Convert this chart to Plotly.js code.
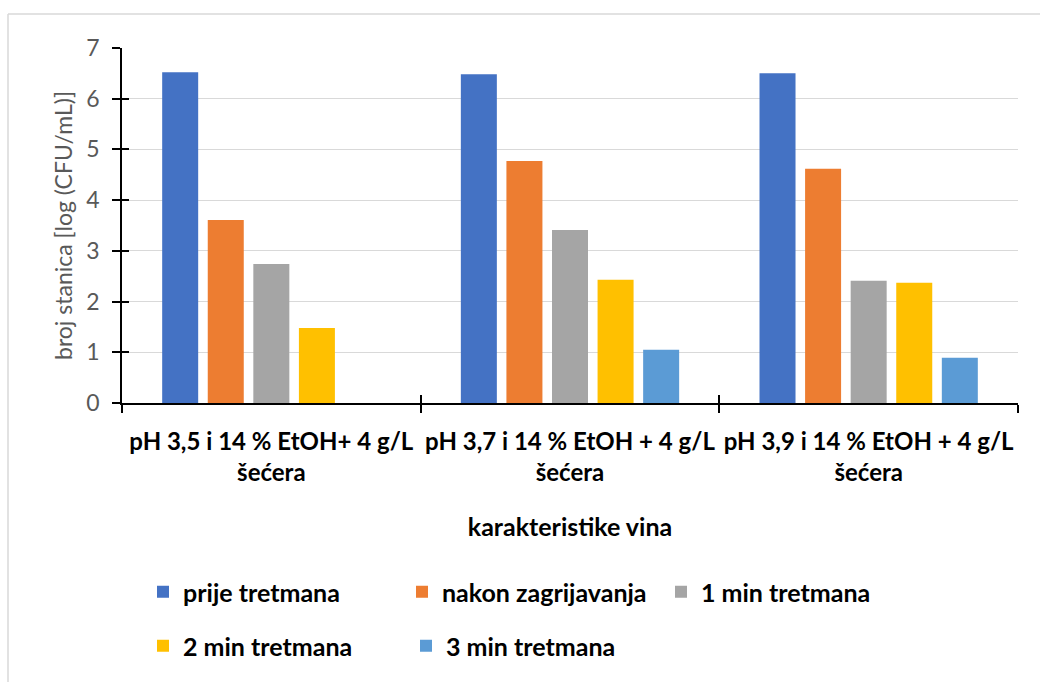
<!DOCTYPE html>
<html>
<head>
<meta charset="utf-8">
<script src="https://cdn.plot.ly/plotly-3.0.1.min.js"></script>
<style>html,body{margin:0;padding:0;background:#fff;}#chart{width:1040px;height:682px;}</style>
</head>
<body>
<div id="chart"></div>
<script>
const categories = [
  "pH 3,5 i 14 % EtOH+ 4 g/L<br>šećera",
  "pH 3,7 i 14 % EtOH + 4 g/L<br>šećera",
  "pH 3,9 i 14 % EtOH + 4 g/L<br>šećera"
];
const seriesNames = ["prije tretmana", "nakon zagrijavanja", "1 min tretmana", "2 min tretmana", "3 min tretmana"];
const prijeTretmana = [6.52, 6.48, 6.50];
const nakonZagrijavanja = [3.61, 4.77, 4.62];
const min1Tretmana = [2.74, 3.41, 2.41];
const min2Tretmana = [1.48, 2.43, 2.37];
const min3Tretmana = [null, 1.05, 0.89];
const yTicks = [0, 1, 2, 3, 4, 5, 6, 7];

const colors = ["#4472C4", "#ED7D31", "#A5A5A5", "#FFC000", "#5B9BD5"];
const values = [prijeTretmana, nakonZagrijavanja, min1Tretmana, min2Tretmana, min3Tretmana];
const FONT = "Lato, 'Open Sans', sans-serif";

const traces = values.map((v, i) => ({
  type: "bar",
  name: seriesNames[i],
  x: categories,
  y: v,
  marker: {color: colors[i]},
  legend: i < 3 ? "legend" : "legend2",
  hoverinfo: "x+y+name"
}));
traces.push({
  type: "scatter", mode: "markers", x: categories, y: [null, null, null],
  xaxis: "x2", yaxis: "y2", showlegend: false, hoverinfo: "skip"
});

const W = 1040, H = 682, L = 122, R = 22, T = 48, B = 279;
const pw = W - L - R, ph = H - T - B;
const px = v => (v - L) / pw;
const py = v => (H - B - v) / ph;

const legendFont = {family: FONT, size: 25, color: "#000", weight: 700};

const layout = {
  width: W, height: H,
  margin: {l: L, r: R, t: T, b: B, pad: 0, autoexpand: false},
  paper_bgcolor: "#fff", plot_bgcolor: "#fff",
  font: {family: FONT, size: 23, color: "#595959"},
  barmode: "group",
  bargap: 0.237,
  bargroupgap: 0.21,
  xaxis: {
    type: "category",
    categoryarray: categories,
    range: [-0.5, 2.5],
    tickson: "boundaries",
    tickangle: 0,
    ticks: "outside", ticklen: 8, tickwidth: 1.5, tickcolor: "#000",
    showline: true, linecolor: "#000", linewidth: 1.5,
    showgrid: false, zeroline: false,
    tickfont: {family: FONT, size: 24, color: "#000", weight: 700},
    ticklabelstandoff: 16,
    title: {text: "karakteristike vina", font: {family: FONT, size: 25, color: "#000", weight: 700}, standoff: 34},
    fixedrange: true
  },
  yaxis: {
    range: [0, 7],
    tickvals: yTicks,
    ticks: "outside", ticklen: 8, tickwidth: 1.5, tickcolor: "#000",
    showline: true, linecolor: "#000", linewidth: 1.5,
    showgrid: true, gridcolor: "#d9d9d9", gridwidth: 1.2,
    zeroline: false,
    tickfont: {family: FONT, size: 23, color: "#595959"},
    ticklabelstandoff: 8,
    title: {text: "broj stanica [log (CFU/mL)]", font: {family: FONT, size: 23, color: "#595959"}, standoff: 7},
    fixedrange: true
  },
  xaxis2: {
    type: "category", categoryarray: categories, range: [-0.5, 2.5],
    overlaying: "x", anchor: "y2", side: "bottom",
    tickson: "boundaries", ticks: "inside", ticklen: 8, tickwidth: 1.5, tickcolor: "#000",
    showticklabels: false, showgrid: false, showline: false, zeroline: false, fixedrange: true
  },
  yaxis2: {
    range: [0, 7], tickvals: yTicks,
    overlaying: "y", anchor: "x2", side: "left",
    ticks: "inside", ticklen: 7, tickwidth: 1.5, tickcolor: "#000",
    showticklabels: false, showgrid: false, showline: false, zeroline: false, fixedrange: true
  },
  legend: {
    orientation: "h", x: px(143), y: py(569), xanchor: "left", yanchor: "top",
    entrywidth: 214, entrywidthmode: "pixels",
    font: legendFont,
    bgcolor: "rgba(0,0,0,0)", traceorder: "normal"
  },
  legend2: {
    orientation: "h", x: px(143), y: py(623), xanchor: "left", yanchor: "top",
    entrywidth: 218, entrywidthmode: "pixels",
    font: legendFont,
    bgcolor: "rgba(0,0,0,0)", traceorder: "normal"
  },
  shapes: [
    {type: "line", xref: "paper", yref: "paper", x0: px(8), x1: px(8), y0: py(14), y1: py(700), line: {color: "#d9d9d9", width: 1.5}},
    {type: "line", xref: "paper", yref: "paper", x0: px(8), x1: px(1060), y0: py(14), y1: py(14), line: {color: "#d9d9d9", width: 1.5}}
  ],
  showlegend: true
};

Plotly.newPlot("chart", traces, layout, {displayModeBar: false, responsive: false});
</script>
</body>
</html>
